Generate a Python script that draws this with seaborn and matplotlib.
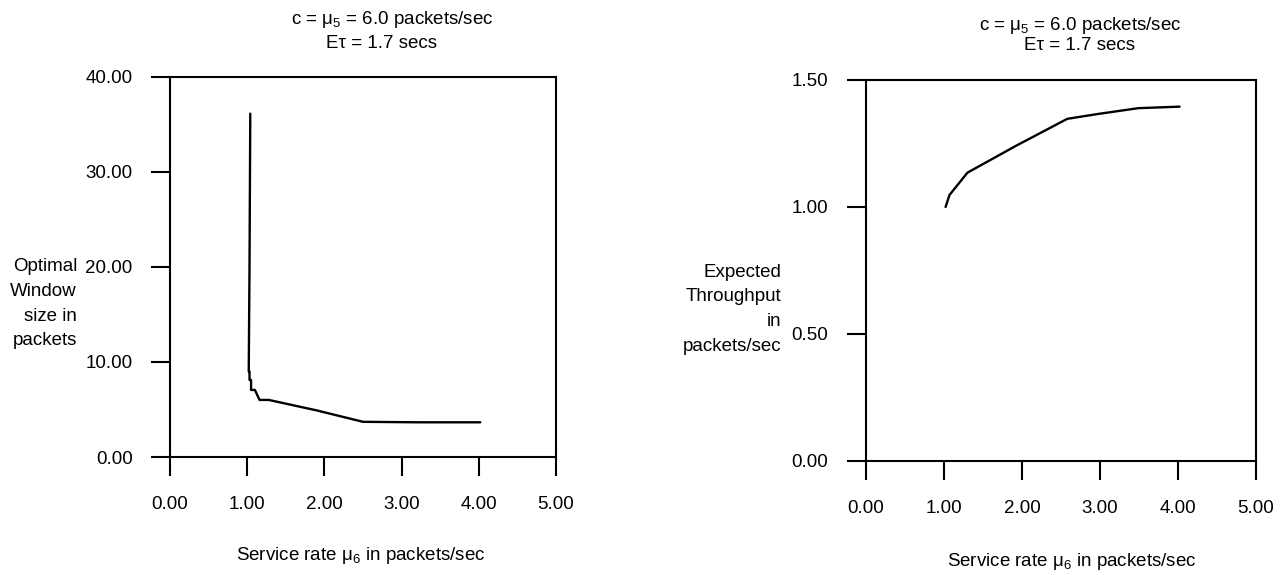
import numpy as np
import pandas as pd
import matplotlib
matplotlib.use('Agg')
import matplotlib.pyplot as plt
import seaborn as sns

# data
mu6_window = [1.04, 1.03, 1.02, 1.03, 1.03, 1.05, 1.05, 1.10, 1.16, 1.28, 1.90, 2.50, 3.20, 4.02]
window_size = [36.1, 20.0, 9.0, 9.0, 8.1, 8.1, 7.05, 7.05, 6.0, 6.0, 4.9, 3.7, 3.65, 3.65]

mu6_thru = [1.02, 1.07, 1.30, 1.93, 2.58, 2.97, 3.49, 4.02]
throughput = [1.00, 1.047, 1.135, 1.242, 1.347, 1.366, 1.389, 1.395]

x_ticks = [0, 1, 2, 3, 4, 5]
y_ticks_left = [0, 10, 20, 30, 40]
y_ticks_right = [0, 0.5, 1.0, 1.5]

title_1 = 'c = \u03bc$_5$ = 6.0 packets/sec'
title_2 = 'E\u03c4 = 1.7 secs'
x_label = 'Service rate \u03bc$_6$ in packets/sec'

sns.set_style('ticks')
plt.rcParams['font.family'] = ['Liberation Sans', 'DejaVu Sans']
plt.rcParams['mathtext.fontset'] = 'custom'
plt.rcParams['mathtext.rm'] = 'Liberation Sans'
plt.rcParams['mathtext.it'] = 'Liberation Sans:italic'
plt.rcParams['text.color'] = 'black'
fs = 13.5

fig = plt.figure(figsize=(12.86, 5.75), dpi=100)
ax1 = fig.add_axes([0.1322, 0.2052, 0.3001, 0.6617])
ax2 = fig.add_axes([0.6734, 0.1983, 0.3033, 0.6626])

df_w = pd.DataFrame({'mu6': mu6_window, 'w': window_size})
df_t = pd.DataFrame({'mu6': mu6_thru, 't': throughput})

sns.lineplot(data=df_w, x='mu6', y='w', sort=False, estimator=None,
             color='black', linewidth=1.7, ax=ax1)
sns.lineplot(data=df_t, x='mu6', y='t', sort=False, estimator=None,
             color='black', linewidth=1.7, ax=ax2)

for ax, yt, ylim in [(ax1, y_ticks_left, (0, 40)), (ax2, y_ticks_right, (0, 1.5))]:
    ax.set_xlim(0, 5)
    ax.set_ylim(*ylim)
    ax.set_xticks(x_ticks)
    ax.set_xticklabels(['%.2f' % v for v in x_ticks])
    ax.set_yticks(yt)
    ax.set_yticklabels(['%.2f' % v for v in yt])
    ax.set_xlabel('')
    ax.set_ylabel('')
    for s in ax.spines.values():
        s.set_visible(True)
        s.set_linewidth(1.5)
        s.set_color('black')
    ax.tick_params(axis='both', direction='out', length=14, width=1.5,
                   colors='black', labelsize=fs)
    ax.tick_params(axis='x', pad=14)
    ax.tick_params(axis='y', pad=13)

# y labels as right-aligned text blocks
ax1.text(-0.241, 0.403, 'Optimal\nWindow\nsize in\npackets', transform=ax1.transAxes,
         ha='right', va='center', multialignment='right', linespacing=1.6, fontsize=fs)
ax2.text(-0.218, 0.398, 'Expected\nThroughput\nin\npackets/sec', transform=ax2.transAxes,
         ha='right', va='center', multialignment='right', linespacing=1.6, fontsize=fs)

# titles
fig.text(392 / 1286, 1 - 19 / 575, title_1, ha='center', va='center', fontsize=fs)
fig.text(381 / 1286, 1 - 44 / 575, title_2, ha='center', va='center', fontsize=fs)
fig.text(1080 / 1286, 1 - 25 / 575, title_1, ha='center', va='center', fontsize=fs)
fig.text(1080 / 1286, 1 - 46 / 575, title_2, ha='center', va='center', fontsize=fs)

# x labels
fig.text(361 / 1286, 1 - 556 / 575, x_label, ha='center', va='center', fontsize=fs)
fig.text(1072 / 1286, 1 - 561 / 575, x_label, ha='center', va='center', fontsize=fs)

fig.savefig('out.png', dpi=100, facecolor='white')
